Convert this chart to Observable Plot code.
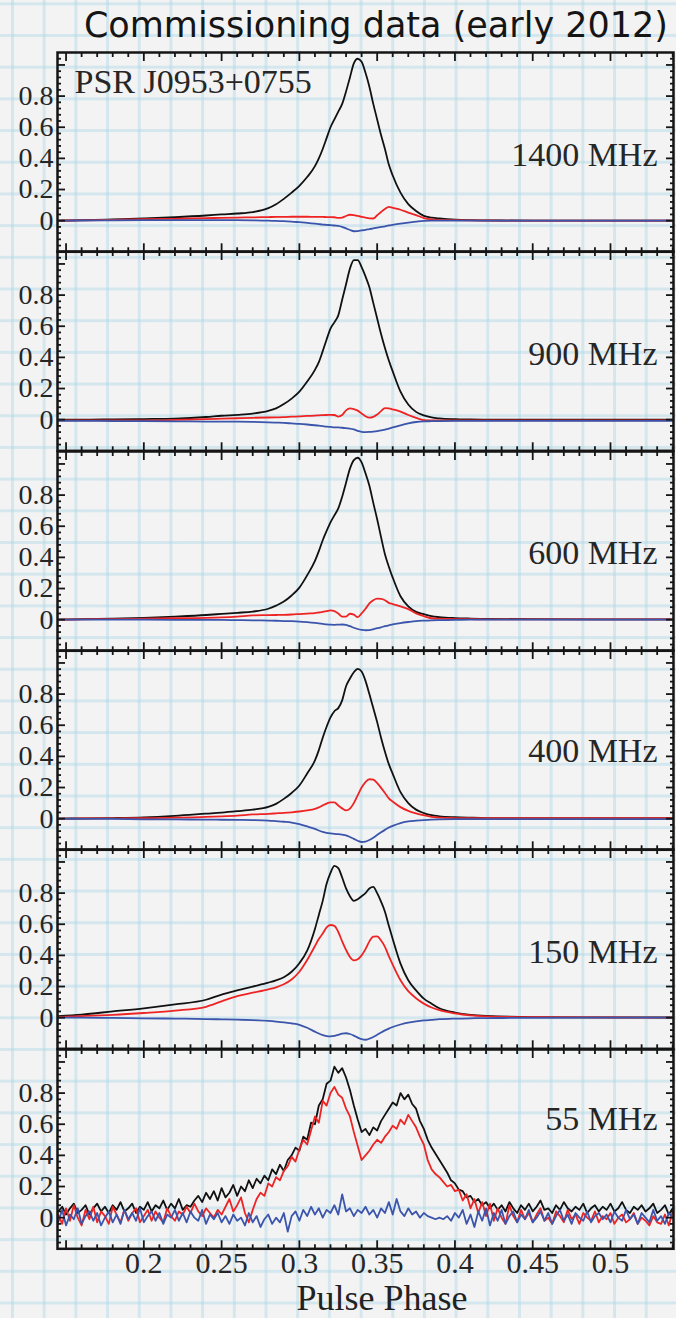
<!DOCTYPE html>
<html><head><meta charset="utf-8">
<script src="https://cdn.jsdelivr.net/npm/d3@7"></script>
<script src="https://cdn.jsdelivr.net/npm/@observablehq/plot@0.6"></script>
<style>
html,body{margin:0;padding:0;}
body{width:676px;height:1318px;overflow:hidden;background-color:#f3f3f3;
 background-image:linear-gradient(to right, rgba(170,214,230,0.42) 3px, transparent 3px),
                  linear-gradient(to bottom, rgba(170,214,230,0.42) 3px, transparent 3px);
 background-size:31.7px 31.7px;background-position:11px 34px;}
#wrap{position:relative;width:676px;height:1318px;}
#wrap svg{position:absolute;left:0;}
#title{position:absolute;right:8px;top:8px;font-family:"DejaVu Sans";font-size:35px;line-height:35px;color:#151515;white-space:nowrap;}
#xlabel{position:absolute;left:232px;width:300px;top:1280px;text-align:center;font-family:"Liberation Serif";font-size:36px;line-height:36px;color:#222;}
</style></head>
<body><div id="wrap"><div id="title">Commissioning data (early 2012)</div><div id="xlabel">Pulse Phase</div></div>
<script>
// pulse phase sampling for the smooth profiles
const phaseGrid = [0.145,0.16,0.18,0.20,0.22,0.24,0.25,0.26,0.27,0.28,0.285,0.29,0.295,0.30,0.305,0.31,0.3125,0.315,0.3175,0.32,0.3225,0.325,0.3275,0.33,0.3325,0.335,0.3375,0.34,0.3425,0.345,0.3475,0.35,0.3525,0.355,0.3575,0.36,0.365,0.37,0.375,0.38,0.385,0.39,0.40,0.41,0.42,0.45,0.50,0.54];

// 1400 MHz: total intensity (I), linear (L), circular (V)
const I1400 = [0,0.003,0.008,0.014,0.022,0.033,0.04,0.046,0.055,0.08,0.105,0.14,0.18,0.224,0.28,0.35,0.40,0.46,0.53,0.60,0.65,0.70,0.75,0.83,0.92,1.01,1.04,1.02,0.95,0.86,0.75,0.65,0.55,0.46,0.36,0.29,0.18,0.106,0.062,0.031,0.02,0.014,0.006,0.003,0.002,0,0,0];
const L1400 = [0,0.002,0.005,0.009,0.012,0.016,0.018,0.02,0.021,0.023,0.024,0.024,0.025,0.025,0.025,0.024,0.024,0.024,0.023,0.023,0.022,0.018,0.02,0.03,0.038,0.036,0.03,0.025,0.02,0.015,0.014,0.035,0.056,0.075,0.089,0.082,0.07,0.052,0.035,0.017,0.008,0.005,0.003,0.002,0.001,0,0,0];
const V1400 = [0,0.001,0.002,0.003,0.003,0.003,0.003,0.003,0.002,0,-0.002,-0.003,-0.006,-0.01,-0.014,-0.019,-0.022,-0.025,-0.027,-0.029,-0.031,-0.033,-0.04,-0.05,-0.06,-0.068,-0.067,-0.063,-0.059,-0.054,-0.05,-0.045,-0.04,-0.036,-0.031,-0.027,-0.019,-0.012,-0.006,-0.001,0,0,0,0,0,0,0,0];

// 900 MHz
const I900 = [0,0,0.002,0.004,0.007,0.017,0.025,0.031,0.039,0.056,0.072,0.10,0.135,0.18,0.245,0.32,0.37,0.44,0.515,0.585,0.625,0.67,0.77,0.87,0.97,1.025,1.025,0.98,0.92,0.85,0.75,0.65,0.55,0.46,0.38,0.31,0.18,0.097,0.05,0.027,0.014,0.008,0.003,0.001,0,0,0,0];
const L900 = [-0.005,-0.005,-0.005,-0.005,-0.002,0.003,0.006,0.009,0.012,0.014,0.015,0.016,0.019,0.021,0.024,0.026,0.028,0.029,0.03,0.031,0.03,0.02,0.03,0.06,0.072,0.068,0.058,0.04,0.022,0.013,0.018,0.033,0.055,0.074,0.072,0.066,0.052,0.03,0.012,-0.003,-0.005,-0.005,-0.005,-0.005,-0.005,-0.005,-0.005,-0.005];
const V900 = [-0.008,-0.008,-0.009,-0.01,-0.011,-0.012,-0.013,-0.013,-0.014,-0.017,-0.019,-0.021,-0.024,-0.027,-0.031,-0.036,-0.039,-0.042,-0.045,-0.047,-0.049,-0.05,-0.052,-0.055,-0.057,-0.063,-0.072,-0.078,-0.08,-0.079,-0.077,-0.074,-0.069,-0.064,-0.057,-0.05,-0.037,-0.024,-0.015,-0.011,-0.01,-0.009,-0.008,-0.008,-0.008,-0.008,-0.008,-0.008];

// 600 MHz
const I600 = [0,0.003,0.007,0.012,0.02,0.03,0.037,0.044,0.052,0.07,0.09,0.116,0.155,0.206,0.285,0.377,0.44,0.51,0.57,0.625,0.67,0.715,0.79,0.88,0.97,1.025,1.04,1.01,0.94,0.86,0.75,0.645,0.53,0.42,0.34,0.27,0.15,0.085,0.05,0.035,0.022,0.016,0.01,0.007,0.005,0.003,0.002,0.002];
const L600 = [0,0.002,0.004,0.006,0.009,0.012,0.015,0.02,0.027,0.029,0.03,0.031,0.033,0.036,0.039,0.042,0.046,0.05,0.055,0.06,0.055,0.04,0.02,0.02,0.038,0.032,0.016,0.04,0.07,0.105,0.125,0.135,0.134,0.125,0.108,0.1,0.085,0.068,0.04,0.022,0.009,0.006,0.004,0.003,0.002,0.002,0.002,0.002];
const V600 = [0,0,0,0,-0.001,-0.002,-0.002,-0.003,-0.004,-0.006,-0.007,-0.009,-0.01,-0.012,-0.016,-0.021,-0.024,-0.027,-0.03,-0.032,-0.033,-0.032,-0.031,-0.034,-0.042,-0.052,-0.06,-0.065,-0.068,-0.067,-0.062,-0.055,-0.049,-0.042,-0.036,-0.031,-0.022,-0.015,-0.009,-0.006,-0.004,-0.003,-0.002,0,0,0,0,0];

// 400 MHz
const I400 = [0,0.002,0.004,0.008,0.018,0.032,0.039,0.048,0.058,0.075,0.095,0.127,0.165,0.213,0.29,0.374,0.44,0.52,0.59,0.65,0.69,0.71,0.76,0.85,0.9,0.94,0.962,0.945,0.885,0.8,0.71,0.62,0.52,0.43,0.35,0.288,0.17,0.1,0.058,0.036,0.022,0.015,0.009,0.006,0.004,0.003,0.003,0.003];
const L400 = [0,0.001,0.002,0.003,0.006,0.011,0.015,0.02,0.027,0.031,0.034,0.037,0.041,0.046,0.053,0.063,0.072,0.085,0.097,0.105,0.104,0.085,0.066,0.053,0.065,0.1,0.15,0.2,0.235,0.253,0.25,0.228,0.198,0.165,0.13,0.11,0.074,0.05,0.034,0.022,0.011,0.007,0.004,0.003,0.003,0.003,0.003,0.003];
const V400 = [0,-0.001,-0.002,-0.004,-0.005,-0.006,-0.007,-0.008,-0.009,-0.012,-0.016,-0.02,-0.025,-0.035,-0.05,-0.066,-0.076,-0.085,-0.091,-0.095,-0.098,-0.1,-0.103,-0.107,-0.118,-0.13,-0.142,-0.15,-0.147,-0.137,-0.122,-0.105,-0.088,-0.072,-0.057,-0.046,-0.028,-0.018,-0.013,-0.009,-0.006,-0.004,-0.003,-0.003,-0.003,-0.003,-0.003,-0.003];

// 150 MHz
const I150 = [0.01,0.02,0.04,0.06,0.085,0.115,0.148,0.175,0.2,0.225,0.24,0.26,0.295,0.35,0.43,0.57,0.66,0.75,0.86,0.93,0.975,0.96,0.9,0.83,0.78,0.75,0.76,0.78,0.8,0.83,0.84,0.8,0.745,0.68,0.59,0.505,0.347,0.24,0.175,0.122,0.09,0.06,0.033,0.018,0.011,0.004,0.002,0.001];
const L150 = [0.005,0.01,0.018,0.03,0.045,0.07,0.105,0.138,0.16,0.182,0.195,0.215,0.245,0.295,0.37,0.46,0.505,0.54,0.58,0.595,0.59,0.55,0.49,0.435,0.39,0.368,0.375,0.4,0.44,0.49,0.52,0.522,0.495,0.455,0.395,0.34,0.24,0.17,0.125,0.09,0.065,0.048,0.027,0.014,0.008,0.003,0.001,0];
const V150 = [0,0,-0.002,-0.004,-0.006,-0.009,-0.011,-0.013,-0.016,-0.021,-0.025,-0.03,-0.037,-0.046,-0.065,-0.09,-0.102,-0.112,-0.118,-0.12,-0.117,-0.11,-0.103,-0.1,-0.105,-0.115,-0.128,-0.138,-0.142,-0.135,-0.124,-0.11,-0.095,-0.082,-0.07,-0.06,-0.044,-0.032,-0.024,-0.018,-0.014,-0.01,-0.006,-0.004,-0.003,-0.001,0,0];

// 55 MHz (noisy), sampled every 0.0025 in phase starting at 0.145
const phase55 = d3.range(159).map(i => 0.145 + 0.0025 * i);
const I55 = [0.04,0.07,0.02,0.06,0.09,0.03,0.05,0.08,0.02,0.06,
 0.09,0.04,0.07,0.03,0.08,0.05,0.10,0.04,0.06,0.09,
 0.03,0.07,0.05,0.10,0.04,0.08,0.06,0.11,0.05,0.09,
 0.06,0.12,0.05,0.08,0.07,0.11,0.14,0.10,0.16,0.12,
 0.17,0.11,0.19,0.13,0.16,0.21,0.14,0.20,0.17,0.24,
 0.19,0.25,0.22,0.27,0.24,0.31,0.28,0.34,0.30,0.37,
 0.40,0.45,0.43,0.52,0.50,0.61,0.60,0.72,0.76,0.86,
 0.88,0.97,0.93,0.96,0.90,0.82,0.72,0.63,0.55,0.57,
 0.53,0.58,0.56,0.62,0.66,0.70,0.74,0.72,0.80,0.76,
 0.79,0.73,0.70,0.62,0.57,0.50,0.45,0.41,0.37,0.33,
 0.29,0.24,0.22,0.18,0.17,0.13,0.14,0.10,0.12,0.08,0.10,0.06,
 0.09,0.05,0.08,0.04,0.10,0.06,0.03,0.08,0.05,0.09,
 0.04,0.07,0.11,0.05,0.06,0.03,0.08,0.05,0.10,0.06,
 0.04,0.07,0.05,0.09,0.03,0.06,0.08,0.04,0.07,0.05,
 0.09,0.04,0.06,0.10,0.05,0.03,0.07,0.05,0.08,0.04,
 0.06,0.09,0.03,0.05,0.08,0.02,0.06];
const L55 = [0.02,-0.04,0.06,-0.02,0.08,0.00,-0.05,0.05,-0.01,0.07,
 -0.03,0.04,0.01,-0.04,0.07,0.02,-0.03,0.05,-0.02,0.03,
 0.06,-0.03,0.01,0.05,-0.02,0.04,0.00,-0.03,0.06,0.01,
 -0.02,0.04,0.02,0.07,0.03,0.09,0.04,0.01,0.06,0.03,
 0.00,0.05,0.02,0.07,0.12,0.04,0.08,0.13,0.03,-0.03,
 0.05,0.12,0.16,0.14,0.22,0.20,0.26,0.24,0.30,0.33,
 0.39,0.36,0.44,0.50,0.47,0.56,0.65,0.61,0.75,0.72,
 0.80,0.84,0.79,0.77,0.70,0.65,0.55,0.46,0.37,0.40,
 0.43,0.47,0.50,0.48,0.52,0.55,0.59,0.57,0.63,0.60,
 0.66,0.62,0.58,0.52,0.47,0.37,0.31,0.28,0.26,0.23,
 0.20,0.21,0.17,0.18,0.11,0.15,0.06,0.12,0.03,0.10,0.01,0.09,
 -0.02,0.06,0.00,-0.04,0.08,0.01,-0.03,0.05,-0.01,0.03,
 -0.03,0.02,0.06,-0.02,0.00,-0.04,0.04,0.01,-0.03,0.05,
 -0.01,0.02,-0.04,0.03,0.00,-0.02,0.04,-0.03,0.01,-0.01,
 0.03,-0.04,0.00,0.02,-0.03,-0.01,0.03,-0.04,0.00,-0.02,
 -0.05,0.01,-0.03,-0.04,0.02,-0.05,0.04];
const V55 = [-0.03,0.05,-0.05,0.02,-0.01,0.06,-0.04,0.01,0.04,-0.02,
 0.03,-0.05,0.00,0.04,-0.03,0.02,-0.04,0.05,-0.01,0.03,
 -0.02,0.06,-0.03,0.01,0.04,-0.02,0.03,-0.04,0.02,0.00,
 0.05,-0.02,0.03,-0.03,0.04,0.00,-0.02,0.05,-0.04,0.02,
 -0.01,0.03,-0.03,0.01,-0.04,0.02,-0.02,0.00,-0.05,0.03,
 -0.03,0.01,-0.06,-0.01,0.02,-0.04,0.00,-0.03,0.03,-0.09,
 0.01,0.04,-0.02,0.05,0.01,0.07,0.02,0.06,0.00,0.05,
 0.03,0.08,0.02,0.15,0.04,0.06,0.01,0.05,0.03,0.07,
 0.02,0.05,0.00,0.06,0.03,0.10,0.02,0.12,0.04,0.01,
 0.06,0.02,0.04,0.00,0.03,0.01,0.00,-0.01,0.00,-0.01,
 0.01,-0.02,0.03,0.00,0.05,-0.04,0.02,-0.06,0.04,-0.02,0.06,-0.05,
 0.03,-0.02,0.05,-0.04,0.01,0.04,-0.03,0.02,-0.01,0.05,
 -0.03,0.00,0.04,-0.02,0.03,-0.04,0.01,0.05,-0.02,0.02,
 -0.04,0.03,0.00,-0.02,0.04,-0.03,0.01,0.03,-0.01,0.02,
 -0.03,0.04,0.00,-0.02,0.05,-0.01,0.02,-0.04,0.03,0.00,
 -0.03,0.05,-0.02,0.01,-0.04,0.03,0.00];

// axis ticks and labels
const xMajor = [0.15,0.2,0.25,0.3,0.35,0.4,0.45,0.5];
const xMinor = d3.range(15, 55).filter(k => k % 5 !== 0).map(k => k / 100);
const xLabels = [0.2,0.25,0.3,0.35,0.4,0.45,0.5];
const yMajor = [0,0.2,0.4,0.6,0.8,1.0];
const yMinor = d3.range(-4, 27).filter(k => k % 5 !== 0).map(k => k * 0.04);
const yLabels = [0,0.2,0.4,0.6,0.8];

const panels = [
  {label:"1400 MHz", x:phaseGrid, I:I1400, L:L1400, V:V1400, labelDy:103, curve:"monotone-x"},
  {label:"900 MHz",  x:phaseGrid, I:I900,  L:L900,  V:V900,  labelDy:103, curve:"monotone-x"},
  {label:"600 MHz",  x:phaseGrid, I:I600,  L:L600,  V:V600,  labelDy:102, curve:"monotone-x"},
  {label:"400 MHz",  x:phaseGrid, I:I400,  L:L400,  V:V400,  labelDy:101, curve:"monotone-x"},
  {label:"150 MHz",  x:phaseGrid, I:I150,  L:L150,  V:V150,  labelDy:103, curve:"monotone-x"},
  {label:"55 MHz",   x:phase55,   I:I55,   L:L55,   V:V55,   labelDy:70,  curve:"linear"}
];

const top0 = 52, panelH = 199.3;
const wrap = document.getElementById("wrap");
const ink = "#151515";
const serif = "Liberation Serif";
const fmt = d => String(d);

panels.forEach((p, k) => {
  const rows = p.x.map((ph, i) => ({phase: ph, I: p.I[i], L: p.L[i], V: p.V[i]}));
  const last = k === panels.length - 1;
  const tk = {label: null, fill: "none", stroke: ink, strokeWidth: 1.8};
  const marks = [
    Plot.line(rows, {x: "phase", y: "I", stroke: "#111", strokeWidth: 1.8, curve: p.curve}),
    Plot.line(rows, {x: "phase", y: "L", stroke: "#ee2424", strokeWidth: 1.8, curve: p.curve}),
    Plot.line(rows, {x: "phase", y: "V", stroke: "#3a55ab", strokeWidth: 1.8, curve: p.curve}),
    Plot.axisX(xMajor, {anchor: "bottom", tickSize: -8, ...tk}),
    Plot.axisX(xMajor, {anchor: "top", tickSize: -8, ...tk}),
    Plot.axisX(xMinor, {anchor: "bottom", tickSize: -4, ...tk}),
    Plot.axisX(xMinor, {anchor: "top", tickSize: -4, ...tk}),
    Plot.axisY(yMajor, {anchor: "left", tickSize: -8, ...tk}),
    Plot.axisY(yMajor, {anchor: "right", tickSize: -8, ...tk}),
    Plot.axisY(yMinor, {anchor: "left", tickSize: -4, ...tk}),
    Plot.axisY(yMinor, {anchor: "right", tickSize: -4, ...tk}),
    Plot.axisY(yLabels, {anchor: "left", tickSize: 0, tickPadding: 4, label: null, fill: "#262626", tickFormat: fmt, fontSize: 28, fontFamily: serif}),
    Plot.frame({stroke: ink, strokeWidth: 2.5}),
    Plot.text([p.label], {text: d => d, frameAnchor: "top-right", dx: -16, dy: p.labelDy, textAnchor: "end", lineAnchor: "middle", fontSize: 34, fontFamily: serif, fill: "#262626"})
  ];
  if (k === 0) {
    marks.push(Plot.text(["PSR J0953+0755"], {text: d => d, frameAnchor: "top-left", dx: 17, dy: 30, textAnchor: "start", lineAnchor: "middle", fontSize: 34, fontFamily: serif, fill: "#262626"}));
  }
  if (last) {
    marks.push(Plot.axisX(xLabels, {anchor: "bottom", tickSize: 0, tickPadding: 3, label: null, fill: "#262626", tickFormat: fmt, fontSize: 30, fontFamily: serif}));
  }
  const svg = Plot.plot({
    width: 676,
    height: panelH + (last ? 34 : 0),
    marginLeft: 57, marginRight: 3, marginTop: 0, marginBottom: last ? 34 : 0,
    x: {domain: [0.1445, 0.5405], label: null},
    y: {domain: [-0.2, 1.08], label: null},
    style: {background: "transparent", overflow: "visible", fontFamily: serif, fontSize: "28px", color: ink},
    marks
  });
  svg.style.top = (top0 + k * panelH) + "px";
  wrap.appendChild(svg);
});
</script>
</body></html>
